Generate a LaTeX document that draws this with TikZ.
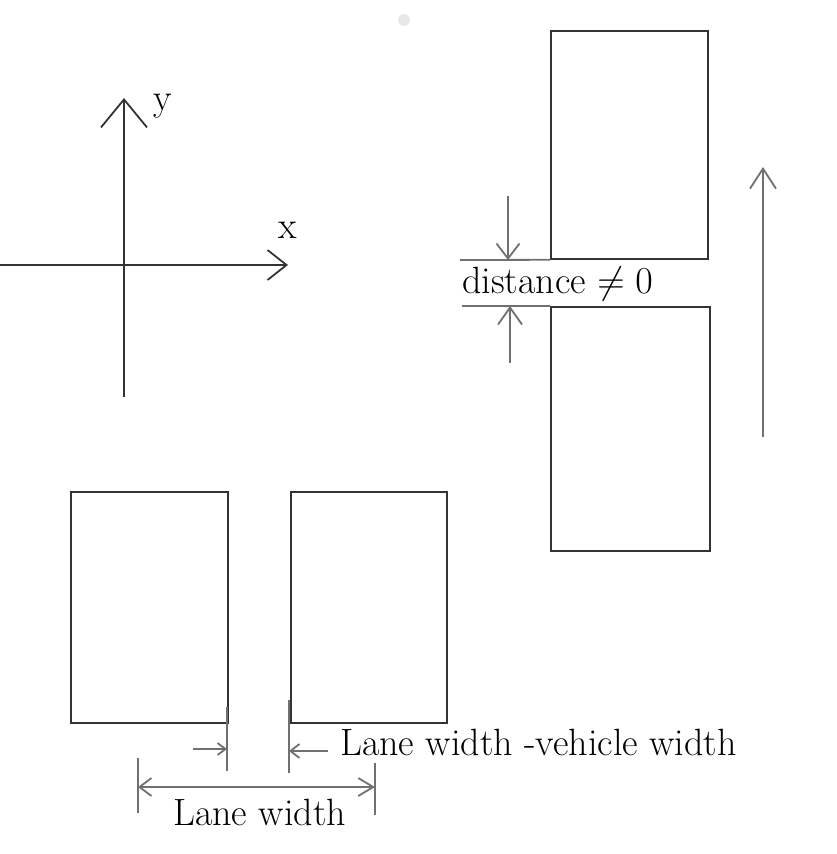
\RequirePackage{fix-cm}
\documentclass[tikz,border=0pt]{standalone}
\usetikzlibrary{arrows.meta, positioning}
\definecolor{inkline}{HTML}{333333}
\definecolor{dimline}{HTML}{707070}
\tikzset{
    car/.style={draw=inkline, line width=1.8pt, inner sep=0pt, anchor=north west},
    axisline/.style={draw=inkline, line width=1.8pt},
    dimline/.style={draw=dimline, line width=1.8pt},
    lbl/.style={font=\fontsize{38}{42}\selectfont, inner sep=0pt},
}

\begin{document}
\begin{tikzpicture}[x=1pt, y=-1pt]
        \useasboundingbox (0,0) rectangle (837,854);

        % Stray dot
        \fill[gray!18] (404,20) circle (6pt);

        % Axes
        \coordinate (xstart) at (0,265);
        \coordinate (xend) at (288,265);
        \coordinate (ystart) at (124,397);
        \coordinate (yend) at (124,98);
        \draw[axisline, -{Straight Barb[length=19pt, width=30pt]}] (xstart) -- (xend);
        \draw[axisline, -{Straight Barb[length=28pt, width=46pt]}] (ystart) -- (yend);
        \node[lbl, anchor=base west] (xlabel) at (278,238) {x};
        \node[lbl, anchor=base west] (ylabel) at (153,110) {y};

        % Vehicles in one lane
        \node[car, minimum width=157pt, minimum height=228pt] (front) at (550,30) {};
        \node[car, minimum width=159pt, minimum height=244pt] (rear) at (550,306) {};

        % Gap between them
        \coordinate (gaptop) at (460,260);
        \coordinate (gapbot) at (462,306);
        \draw[dimline] (gaptop) -- (front.south west);
        \draw[dimline] (gapbot) -- (rear.north west);
        \coordinate (downstart) at (508,196);
        \coordinate (downend) at (508,260);
        \coordinate (upstart) at (510,363);
        \coordinate (upend) at (510,306);
        \draw[dimline, -{Straight Barb[length=15pt, width=23pt]}] (downstart) -- (downend);
        \draw[dimline, -{Straight Barb[length=17pt, width=24pt]}] (upstart) -- (upend);
        \node[lbl, anchor=base west] (gaplabel) at (462,293) {distance $\neq 0$};

        % Driving direction
        \coordinate (dirstart) at (763,437);
        \coordinate (dirend) at (763,167);
        \draw[dimline, -{Straight Barb[length=20pt, width=26pt]}] (dirstart) -- (dirend);

        % Vehicles side by side
        \node[car, minimum width=157pt, minimum height=231pt] (left) at (70,491) {};
        \node[car, minimum width=156pt, minimum height=231pt] (right) at (290,491) {};

        % Spare width
        \coordinate (ltop) at (227,707);
        \coordinate (lbot) at (227,771);
        \coordinate (rtop) at (289,700);
        \coordinate (rbot) at (289,773);
        \draw[dimline] (ltop) -- (lbot);
        \draw[dimline] (rtop) -- (rbot);
        \coordinate (spareL) at (193,749);
        \coordinate (spareR) at (328,751);
        \draw[dimline, -{Straight Barb[length=8pt, width=12pt]}] (spareL) -- (ltop |- spareL);
        \draw[dimline, -{Straight Barb[length=9pt, width=14pt]}] (spareR) -- (rtop |- spareR);
        \node[lbl, anchor=base west] (sparelabel) at (340,755) {Lane width -vehicle width};

        % Lane width
        \coordinate (lanetopL) at (138,758);
        \coordinate (lanebotL) at (138,813);
        \coordinate (lanetopR) at (375,763);
        \coordinate (lanebotR) at (375,815);
        \draw[dimline] (lanetopL) -- (lanebotL);
        \draw[dimline] (lanetopR) -- (lanebotR);
        \draw[dimline, {Straight Barb[length=12pt, width=18pt]}-{Straight Barb[length=15pt, width=18pt]}] (lanetopL |- 0,787) -- (lanetopR |- 0,787);
        \node[lbl, anchor=base west] (lanelabel) at (173,825) {Lane width};

\end{tikzpicture}
\end{document}
